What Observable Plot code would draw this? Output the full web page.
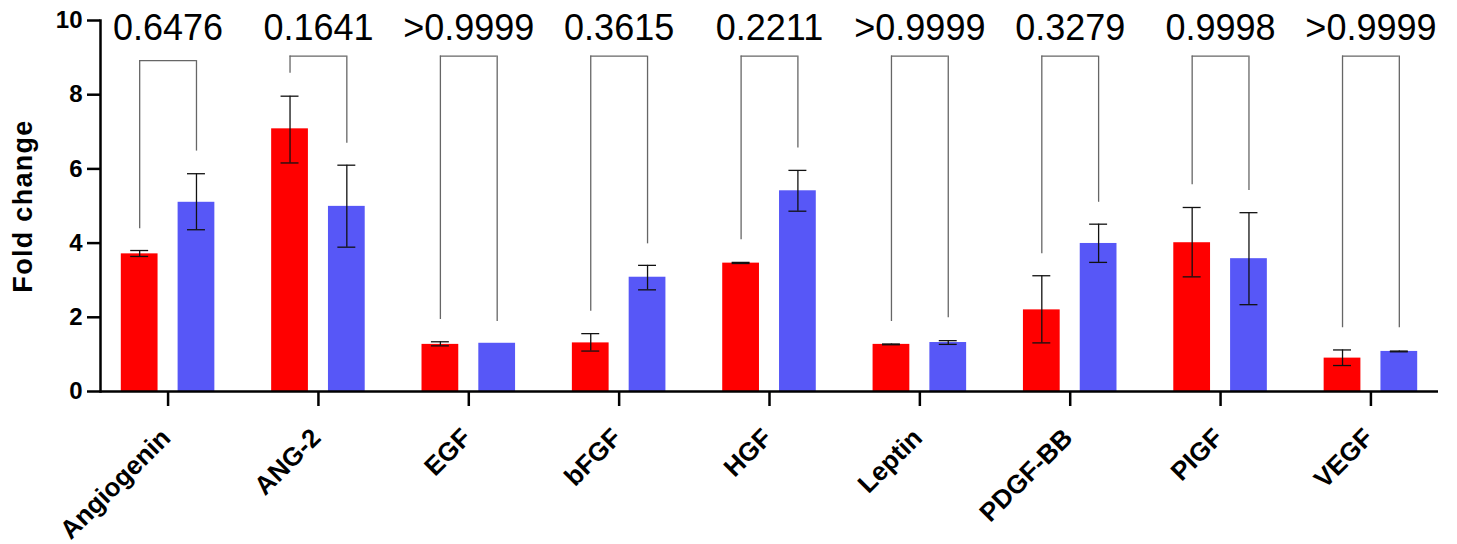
<!DOCTYPE html>
<html>
<head>
<meta charset="utf-8">
<script src="https://cdn.jsdelivr.net/npm/d3@7"></script>
<script src="https://cdn.jsdelivr.net/npm/@observablehq/plot@0.6"></script>
<style>
  html, body { margin: 0; padding: 0; background: #fff; }
  text[aria-label="y-title"] { letter-spacing: 1.3px; }
</style>
</head>
<body>
<div id="chart"></div>
<script>
const categories = ["Angiogenin", "ANG-2", "EGF", "bFGF", "HGF", "Leptin", "PDGF-BB", "PIGF", "VEGF"];
const redMean  = [3.71, 7.08, 1.27, 1.31, 3.46, 1.27, 2.20, 4.01, 0.90];
const redLo    = [3.64, 6.16, 1.23, 1.09, 3.45, 1.26, 1.31, 3.09, 0.70];
const redHi    = [3.80, 7.96, 1.34, 1.56, 3.48, 1.28, 3.12, 4.96, 1.12];
const blueMean = [5.10, 4.99, 1.30, 3.08, 5.41, 1.32, 3.99, 3.58, 1.08];
const blueLo   = [4.36, 3.89, null, 2.74, 4.86, 1.27, 3.48, 2.34, 1.07];
const blueHi   = [5.87, 6.10, null, 3.40, 5.96, 1.37, 4.51, 4.82, 1.09];
const pValues  = ["0.6476", "0.1641", ">0.9999", "0.3615", "0.2211", ">0.9999", "0.3279", "0.9998", ">0.9999"];
const bracketTop = [8.92, 9.04, 9.04, 9.04, 9.04, 9.04, 9.04, 9.04, 9.04];
const redLeg   = [4.39, 8.58, 1.94, 2.16, 4.09, 1.89, 3.71, 5.57, 1.72];
const blueLeg  = [6.48, 6.69, 1.89, 3.98, 6.56, 1.99, 5.10, 5.42, 1.72];
const yTicks = [0, 2, 4, 6, 8, 10];

const RED = "#ff0000";
const BLUE = "#5757f7";

const rows = categories.map((c, i) => ({
  category: c,
  redMean: redMean[i], redLo: redLo[i], redHi: redHi[i],
  blueMean: blueMean[i], blueLo: blueLo[i], blueHi: blueHi[i],
  p: pValues[i], top: bracketTop[i], redLeg: redLeg[i], blueLeg: blueLeg[i]
}));
const blueErr = rows.filter(d => d.blueLo != null);

// band geometry (pixels) used as insets / offsets within each category band
const B = 150.4;     // band width
const off = 28.4;    // bar centre offset from category centre
const bw = 36.8;     // bar width
const cap = 18;      // error cap width

const chart = Plot.plot({
  width: 1457,
  height: 544,
  marginLeft: 100,
  marginRight: 19,
  marginTop: 20,
  marginBottom: 153,
  style: { fontFamily: "'Liberation Sans', Arial, sans-serif", background: "white", color: "black" },
  x: { type: "band", domain: categories, range: [92.4, 1445.6], padding: 0, round: false },
  y: { domain: [0, 10] },
  marks: [
    // bars
    Plot.barY(rows, { x: "category", y: "redMean", fill: RED,
      insetLeft: B / 2 - off - bw / 2, insetRight: B / 2 + off - bw / 2 }),
    Plot.barY(rows, { x: "category", y: "blueMean", fill: BLUE,
      insetLeft: B / 2 + off - bw / 2, insetRight: B / 2 - off - bw / 2 }),
    // error bars
    Plot.ruleX(rows, { x: "category", y1: "redLo", y2: "redHi", dx: -off, stroke: "#111", strokeWidth: 1.3 }),
    Plot.tickY(rows, { x: "category", y: "redHi", stroke: "#111", strokeWidth: 1.3,
      insetLeft: B / 2 - off - cap / 2, insetRight: B / 2 + off - cap / 2 }),
    Plot.tickY(rows, { x: "category", y: "redLo", stroke: "#111", strokeWidth: 1.3,
      insetLeft: B / 2 - off - cap / 2, insetRight: B / 2 + off - cap / 2 }),
    Plot.ruleX(blueErr, { x: "category", y1: "blueLo", y2: "blueHi", dx: off, stroke: "#111", strokeWidth: 1.3 }),
    Plot.tickY(blueErr, { x: "category", y: "blueHi", stroke: "#111", strokeWidth: 1.3,
      insetLeft: B / 2 + off - cap / 2, insetRight: B / 2 - off - cap / 2 }),
    Plot.tickY(blueErr, { x: "category", y: "blueLo", stroke: "#111", strokeWidth: 1.3,
      insetLeft: B / 2 + off - cap / 2, insetRight: B / 2 - off - cap / 2 }),
    // comparison brackets
    Plot.ruleX(rows, { x: "category", y1: "redLeg", y2: "top", dx: -off, stroke: "#666", strokeWidth: 1.3 }),
    Plot.ruleX(rows, { x: "category", y1: "blueLeg", y2: "top", dx: off, stroke: "#666", strokeWidth: 1.3 }),
    Plot.tickY(rows, { x: "category", y: "top", stroke: "#666", strokeWidth: 1.3,
      insetLeft: B / 2 - off, insetRight: B / 2 - off }),
    // p values
    Plot.text(rows, { x: "category", text: "p", frameAnchor: "top", dy: 7.5, lineAnchor: "middle",
      fontSize: 36, fill: "black" }),
    // axes
    Plot.ruleY([0], { stroke: "black", strokeWidth: 2.5 }),
    Plot.frame({ anchor: "left", stroke: "black", strokeWidth: 2.5 }),
    Plot.axisY(yTicks, { tickSize: 13, tickFormat: () => "", strokeWidth: 2.5, label: null }),
    Plot.text(yTicks, { y: d => d, text: d => String(d), frameAnchor: "left", dx: -18,
      textAnchor: "end", lineAnchor: "middle", fontSize: 24, fontWeight: "bold", fill: "black" }),
    Plot.axisX({ tickSize: 15, tickFormat: () => "", strokeWidth: 2.5, label: null }),
    Plot.text(categories, { x: d => d, frameAnchor: "bottom", rotate: -45, textAnchor: "end",
      lineAnchor: "middle", dx: -2, dy: 42, fontSize: 26, fontWeight: "bold", fill: "black" }),
    Plot.text(["Fold change"], { frameAnchor: "left", rotate: -90, dx: -77, textAnchor: "middle",
      lineAnchor: "middle", fontSize: 27, fontWeight: "bold", fill: "black",
      ariaLabel: () => "y-title" })
  ]
});
document.getElementById("chart").appendChild(chart);
</script>
</body>
</html>
